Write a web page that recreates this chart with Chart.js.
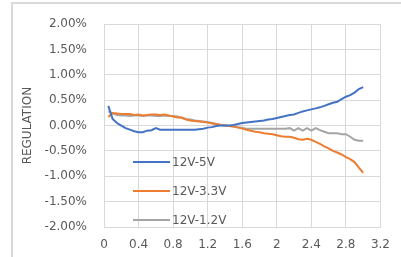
<!DOCTYPE html>
<html>
<head>
<meta charset="utf-8">
<script src="https://cdn.jsdelivr.net/npm/chart.js@4.4.1/dist/chart.umd.min.js"></script>
<style>
html,body{margin:0;padding:0;background:#fff;overflow:hidden;}
canvas{display:block;}
</style>
</head>
<body>
<canvas id="c" width="401" height="257"></canvas>
<script>
const seriesNames = ['12V-5V', '12V-3.3V', '12V-1.2V'];
const seriesColors = ['#4472C4', '#ED7D31', '#A5A5A5'];
const loadA = [0.05,0.10,0.15,0.20,0.25,0.30,0.35,0.40,0.45,0.50,0.55,0.60,0.65,0.70,0.75,0.80,0.85,0.90,0.95,1.00,
  1.05,1.10,1.15,1.20,1.25,1.30,1.35,1.40,1.45,1.50,1.55,1.60,1.65,1.70,1.75,1.80,1.85,1.90,1.95,2.00,
  2.05,2.10,2.15,2.20,2.25,2.30,2.35,2.40,2.45,2.50,2.55,2.60,2.65,2.70,2.75,2.80,2.85,2.90,2.95,3.00];
const reg5V = [0.39,0.13,0.05,0.00,-0.05,-0.08,-0.11,-0.13,-0.13,-0.10,-0.09,-0.05,-0.08,-0.08,-0.08,-0.08,-0.08,-0.08,-0.08,-0.08,
  -0.08,-0.07,-0.06,-0.04,-0.03,-0.01,0.00,0.00,0.00,0.01,0.03,0.05,0.06,0.07,0.08,0.09,0.10,0.12,0.13,0.15,
  0.17,0.19,0.21,0.22,0.25,0.28,0.30,0.32,0.34,0.36,0.39,0.42,0.45,0.47,0.52,0.57,0.60,0.65,0.72,0.76];
const reg33V = [0.17,0.25,0.24,0.23,0.23,0.23,0.21,0.22,0.20,0.21,0.22,0.22,0.21,0.22,0.20,0.18,0.16,0.16,0.12,0.10,
  0.09,0.08,0.07,0.06,0.04,0.03,0.01,0.00,-0.01,-0.02,-0.04,-0.06,-0.08,-0.10,-0.12,-0.13,-0.15,-0.16,-0.17,-0.19,
  -0.21,-0.22,-0.22,-0.24,-0.27,-0.28,-0.26,-0.28,-0.32,-0.36,-0.41,-0.45,-0.50,-0.53,-0.57,-0.62,-0.66,-0.72,-0.83,-0.93];
const reg12V = [0.28,0.24,0.21,0.20,0.20,0.19,0.20,0.20,0.19,0.20,0.20,0.19,0.19,0.20,0.19,0.19,0.18,0.15,0.13,0.12,
  0.10,0.09,0.08,0.07,0.05,0.03,0.01,0.00,-0.01,-0.02,-0.03,-0.04,-0.06,-0.06,-0.06,-0.06,-0.06,-0.06,-0.06,-0.06,
  -0.06,-0.06,-0.05,-0.10,-0.05,-0.10,-0.05,-0.10,-0.05,-0.09,-0.12,-0.15,-0.15,-0.15,-0.17,-0.17,-0.22,-0.28,-0.30,-0.30];
const xTicks = [0,0.4,0.8,1.2,1.6,2,2.4,2.8,3.2];
const yTicks = [-2,-1.5,-1,-0.5,0,0.5,1,1.5,2];
const yTitle = 'REGULATION';

const allSeries = [reg5V, reg33V, reg12V];
const datasets = allSeries.map((vals, i) => ({
  label: seriesNames[i],
  data: vals.map((v, j) => ({x: loadA[j], y: v})),
  borderColor: seriesColors[i],
  backgroundColor: seriesColors[i],
  borderWidth: 2,
  pointRadius: 0,
  tension: 0,
  fill: false
}));

const FONT = 'DejaVu Sans';
const TXT = '#595959';
const GRID = '#d9d9d9';

const frame = {
  id: 'frame',
  beforeDraw(chart) {
    const ctx = chart.ctx;
    ctx.save();
    ctx.fillStyle = '#ffffff';
    ctx.fillRect(0, 0, chart.width, chart.height);
    ctx.strokeStyle = GRID;
    ctx.lineWidth = 2;
    ctx.beginPath();
    ctx.moveTo(12, chart.height);
    ctx.lineTo(12, 3);
    ctx.lineTo(chart.width, 3);
    ctx.stroke();
    ctx.restore();
  }
};

const innerLegend = {
  id: 'innerLegend',
  afterDatasetsDraw(chart) {
    const ctx = chart.ctx;
    const rows = [162, 191, 220];
    ctx.save();
    ctx.font = '12px "' + FONT + '"';
    ctx.textBaseline = 'middle';
    ctx.textAlign = 'left';
    chart.data.datasets.forEach((ds, i) => {
      const y = rows[i];
      ctx.strokeStyle = ds.borderColor;
      ctx.lineWidth = 2;
      ctx.beginPath();
      ctx.moveTo(133, y);
      ctx.lineTo(170, y);
      ctx.stroke();
      ctx.fillStyle = TXT;
      ctx.fillText(ds.label, 172, y + 1);
    });
    ctx.restore();
  }
};

new Chart(document.getElementById('c'), {
  type: 'line',
  data: {datasets},
  options: {
    responsive: false,
    animation: false,
    layout: {padding: {top: 23, right: 9, left: 0, bottom: 0}},
    plugins: {legend: {display: false}, tooltip: {enabled: false}},
    scales: {
      x: {
        type: 'linear',
        min: xTicks[0], max: xTicks[xTicks.length - 1],
        afterBuildTicks: (s) => { s.ticks = xTicks.map(v => ({value: v})); },
        afterFit: (s) => { s.height = 30; },
        grid: {display: true, drawOnChartArea: true, color: GRID, lineWidth: 1, drawTicks: false},
        border: {display: true, color: GRID, width: 1},
        ticks: {
          padding: 11, color: TXT, maxRotation: 0, autoSkip: false,
          font: {family: FONT, size: 12},
          callback: (v) => String(Number(v.toFixed(1)))
        }
      },
      y: {
        type: 'linear',
        min: yTicks[0], max: yTicks[yTicks.length - 1],
        afterBuildTicks: (s) => { s.ticks = yTicks.map(v => ({value: v})); },
        afterFit: (s) => { s.width = 104; },
        grid: {display: true, drawOnChartArea: true, color: GRID, lineWidth: 1, drawTicks: false},
        border: {display: true, color: GRID, width: 1},
        ticks: {
          padding: 17, color: TXT, autoSkip: false,
          font: {family: FONT, size: 12},
          callback: (v) => v.toFixed(2) + '%'
        },
        title: {
          display: true, text: yTitle, color: TXT,
          font: {family: FONT, size: 12},
          padding: {top: 21, bottom: 0}
        }
      }
    }
  },
  plugins: [frame, innerLegend]
});
</script>
</body>
</html>
